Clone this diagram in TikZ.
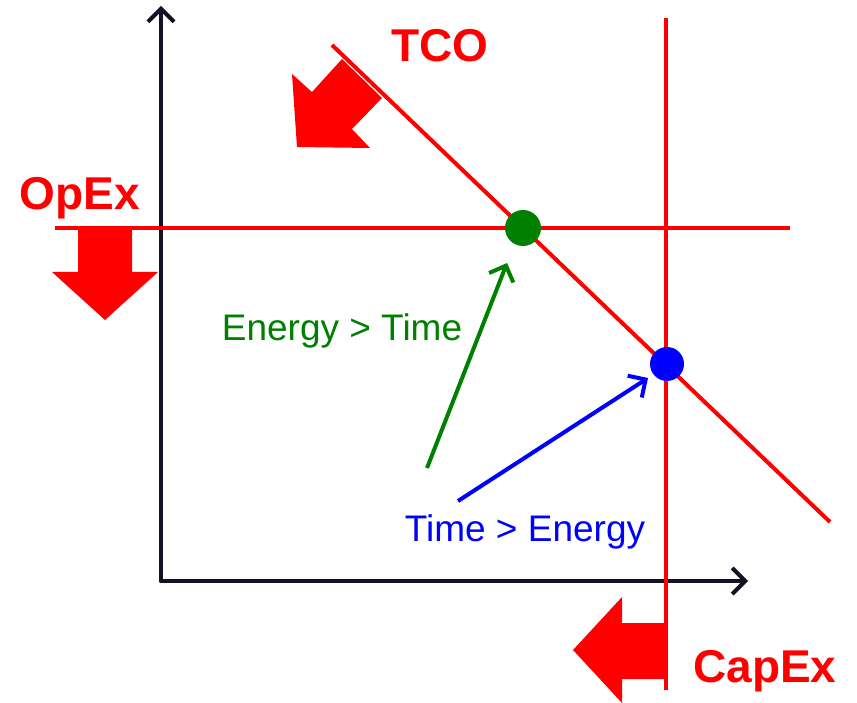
\documentclass[tikz,border=0pt]{standalone}
\usepackage{fontspec}
\setmainfont{Liberation Sans}
\usepackage{xcolor}
\usepackage{tikz}
\usetikzlibrary{arrows.meta}
\definecolor{axisblack}{RGB}{22,16,36}
\definecolor{costred}{RGB}{255,0,0}
\definecolor{darkgreen}{RGB}{0,128,0}
\definecolor{pureblue}{RGB}{0,0,255}

\begin{document}
\begin{tikzpicture}[x=1pt, y=-1pt,
    costline/.style={costred, line width=4pt},
    bigarrow/.style={fill=costred, draw=none},
    costlabel/.style={text=costred, inner sep=0pt, anchor=base,
                      font=\fontsize{46}{50}\selectfont\bfseries},
    caselabel/.style={inner sep=0pt, anchor=base, font=\fontsize{37}{42}\selectfont},
    pointer/.style={line width=4pt, -{Straight Barb[length=13pt, width=26pt]}},
    optdot/.style={circle, minimum size=36pt, inner sep=0pt}]
  \useasboundingbox (0,0) rectangle (857,703);

  % axes
  \coordinate (origin) at (161,581);
  \coordinate (ytop) at (161,6);
  \coordinate (xend) at (748,581);
  \draw[axisblack, line width=4pt, line cap=round, -{Straight Barb[length=13pt, width=26pt]}] (origin) -- (ytop);
  \draw[axisblack, line width=4pt, line cap=round, -{Straight Barb[length=13pt, width=26pt]}] (origin) -- (xend);

  % cost lines
  \coordinate (tcostart) at (332,45);
  \coordinate (tcoend) at (830,522);
  \coordinate (opexleft) at (55,228);
  \coordinate (opexright) at (790,228);
  \coordinate (capextop) at (666,18);
  \coordinate (capexbot) at (666,690);
  \draw[costline] (tcostart) -- (tcoend);
  \draw[costline] (opexleft) -- (opexright);
  \draw[costline] (capextop) -- (capexbot);

  % block arrows
  \fill[bigarrow] (342,59) -- (382,98) -- (352,129) -- (370,148) -- (297,147)
                  -- (292,74) -- (312,92) -- cycle;
  \fill[bigarrow] (78,228) -- (132,228) -- (132,272) -- (158,272) -- (105,320)
                  -- (52,272) -- (78,272) -- cycle;
  \fill[bigarrow] (667,623) -- (667,679) -- (622,679) -- (622,703) -- (573,650)
                  -- (622,597) -- (622,623) -- cycle;

  % labels
  \node[costlabel] (tco) at (440,62) {TCO};
  \node[costlabel] (opex) at (80,210) {OpEx};
  \node[costlabel] (capex) at (765,682) {CapEx};
  \node[caselabel, text=darkgreen] (energyfirst) at (342,341) {Energy > Time};
  \node[caselabel, text=pureblue] (timefirst) at (525,541) {Time > Energy};

  % optimal points
  \node[optdot, fill=darkgreen] (greendot) at (523,228) {};
  \node[optdot, fill=pureblue, minimum size=34pt] (bluedot) at (667,364) {};

  \coordinate (greentail) at (427,468);
  \coordinate (bluetail) at (458,501);
  \draw[pointer, darkgreen] (greentail) -- ([shift={(-16pt,-35pt)}]greendot.center);
  \draw[pointer, pureblue] (bluetail) -- ([shift={(-19pt,-14pt)}]bluedot.center);
\end{tikzpicture}
\end{document}
